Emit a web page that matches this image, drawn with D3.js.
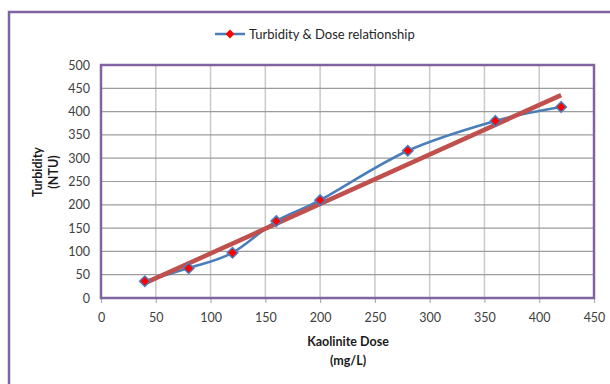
<!DOCTYPE html>
<html>
<head>
<meta charset="utf-8">
<script src="https://cdn.jsdelivr.net/npm/d3@7"></script>
<style>
  html, body { margin: 0; padding: 0; background: #fff; }
  svg { display: block; }
  text { font-family: Lato, "Open Sans", sans-serif; }
</style>
</head>
<body>
<svg id="chart" width="610" height="384"></svg>
<script>
// Kaolinite dose (mg/L) and measured turbidity (NTU)
const doses = [40, 80, 120, 160, 200, 280, 360, 420];
const turbidity = [36, 64, 97, 165, 210, 316, 380, 410];
const xTicks = [0, 50, 100, 150, 200, 250, 300, 350, 400, 450];
const yTicks = [0, 50, 100, 150, 200, 250, 300, 350, 400, 450, 500];
const seriesName = "Turbidity & Dose relationship";

const W = 610, H = 384;
const plot = { left: 101, right: 594, top: 65, bottom: 298 };
const purple = "#8064a2";
const blue = "#4a7ebb";
const red = "#c0504d";

const svg = d3.select("#chart");

// outer chart frame
svg.append("rect")
  .attr("x", 9).attr("y", 12)
  .attr("width", W + 20).attr("height", H + 20)
  .attr("fill", "#fff")
  .attr("stroke", purple).attr("stroke-width", 2.5);

const x = d3.scaleLinear().domain([0, 450]).range([plot.left, plot.right]);
const y = d3.scaleLinear().domain([0, 500]).range([plot.bottom, plot.top]);

// gridlines
svg.append("g").selectAll("line").data(xTicks.slice(1, -1)).join("line")
  .attr("x1", d => x(d)).attr("x2", d => x(d))
  .attr("y1", plot.top).attr("y2", plot.bottom)
  .attr("stroke", "#c9c9c9").attr("stroke-width", 1.5);
svg.append("g").selectAll("line").data(yTicks.slice(1, -1)).join("line")
  .attr("x1", plot.left).attr("x2", plot.right)
  .attr("y1", d => y(d)).attr("y2", d => y(d))
  .attr("stroke", "#9c9c9c").attr("stroke-width", 1.2);

// x axis ticks and labels
const xAxis = d3.axisBottom(x).tickValues(xTicks).tickSize(5).tickPadding(10);
const gx = svg.append("g").attr("transform", `translate(0,${plot.bottom})`).call(xAxis);
gx.select(".domain").remove();
gx.selectAll(".tick line").attr("stroke", "#b0b0b0").attr("stroke-width", 1.2);
gx.selectAll(".tick text").attr("font-size", 12.5).attr("fill", "#404040")
  .attr("font-family", "Lato, sans-serif");

// y axis labels
const yAxis = d3.axisLeft(y).tickValues(yTicks).tickSize(0).tickPadding(11);
const gy = svg.append("g").attr("transform", `translate(${plot.left},0)`).call(yAxis);
gy.select(".domain").remove();
gy.selectAll(".tick text").attr("font-size", 12.5).attr("fill", "#404040")
  .attr("font-family", "Lato, sans-serif");

// plot border
svg.append("rect")
  .attr("x", plot.left).attr("y", plot.top)
  .attr("width", plot.right - plot.left).attr("height", plot.bottom - plot.top)
  .attr("fill", "none").attr("stroke", purple).attr("stroke-width", 2.5);

// data
const pts = doses.map((d, i) => [d, turbidity[i]]);

// smoothed series line
const line = d3.line().x(d => x(d[0])).y(d => y(d[1])).curve(d3.curveCardinal.tension(0));
svg.append("path").datum(pts)
  .attr("d", line)
  .attr("fill", "none").attr("stroke", blue).attr("stroke-width", 2.5);

// linear trend line (least squares fit)
const mx = d3.mean(doses), my = d3.mean(turbidity);
const slope = d3.sum(pts, p => (p[0] - mx) * (p[1] - my)) / d3.sum(doses, v => (v - mx) ** 2);
const intercept = my - slope * mx;
const x0 = d3.min(doses), x1 = d3.max(doses);
svg.append("line")
  .attr("x1", x(x0)).attr("y1", y(slope * x0 + intercept))
  .attr("x2", x(x1)).attr("y2", y(slope * x1 + intercept))
  .attr("stroke", red).attr("stroke-width", 4.5);

// diamond markers
const diamond = d3.symbol().type(d3.symbolDiamond2).size(70);
svg.append("g").selectAll("path").data(pts).join("path")
  .attr("d", diamond)
  .attr("transform", d => `translate(${x(d[0])},${y(d[1])})`)
  .attr("fill", "#ff0000").attr("stroke", blue).attr("stroke-width", 1.5);

// legend
const lg = svg.append("g").attr("transform", "translate(215,34)");
lg.append("line").attr("x1", 0).attr("x2", 30).attr("y1", 0).attr("y2", 0)
  .attr("stroke", blue).attr("stroke-width", 2.5);
lg.append("path").attr("d", d3.symbol().type(d3.symbolDiamond2).size(50)())
  .attr("transform", "translate(15,0)").attr("fill", "#ff0000");
lg.append("text").attr("x", 34).attr("y", 4.5)
  .attr("font-size", 13).attr("fill", "#262626").text(seriesName);

// axis titles
const xt = svg.append("text").attr("text-anchor", "middle")
  .attr("font-size", 12.5).attr("font-weight", "bold").attr("fill", "#1a1a1a");
xt.append("tspan").attr("x", 348).attr("y", 346).text("Kaolinite Dose");
xt.append("tspan").attr("x", 348).attr("y", 365).text("(mg/L)");

const yt = svg.append("text").attr("text-anchor", "middle")
  .attr("transform", "translate(0,172) rotate(-90)")
  .attr("font-size", 12.5).attr("font-weight", "bold").attr("fill", "#1a1a1a");
yt.append("tspan").attr("x", 0).attr("y", 42).text("Turbidity");
yt.append("tspan").attr("x", 0).attr("y", 58).text("(NTU)");
</script>
</body>
</html>
